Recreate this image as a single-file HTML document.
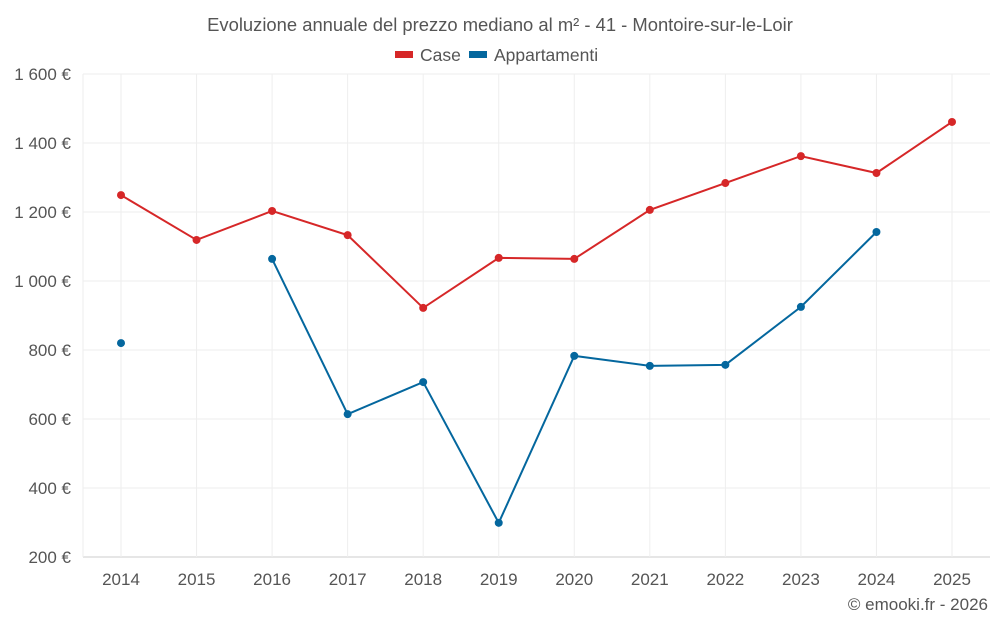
<!DOCTYPE html>
<html><head><meta charset="utf-8"><style>
body{margin:0;background:#fff;font-family:"Liberation Sans",sans-serif;}
svg text{font-family:"Liberation Sans",sans-serif;}
</style></head><body>
<svg id="c" width="1000" height="625">
<text x="500" y="31" text-anchor="middle" font-size="18.4" fill="#555">Evoluzione annuale del prezzo mediano al m² - 41 - Montoire-sur-le-Loir</text>
<g>
<g><rect x="395" y="51" width="18" height="7" fill="#d62728"/><text x="420" y="61" font-size="17.5" fill="#555">Case</text></g>
<g><rect x="469" y="51" width="18" height="7" fill="#04679e"/><text x="494" y="61" font-size="17.5" fill="#555">Appartamenti</text></g>
</g>
<g id="grid"></g><g id="axes"></g><g id="series"></g>
<text x="988" y="610" text-anchor="end" font-size="17" fill="#555">© emooki.fr - 2026</text>
</svg>
<script>
const years=[2014,2015,2016,2017,2018,2019,2020,2021,2022,2023,2024,2025];
const caseValues=[1249,1119,1203,1133,922,1067,1064,1206,1284,1362,1313,1461];
const apptValues=[820,null,1064,614,707,299,783,754,757,925,1142,null];
const yTicks=[200,400,600,800,1000,1200,1400,1600];
const yTickLabels=["200 €","400 €","600 €","800 €","1 000 €","1 200 €","1 400 €","1 600 €"];
const NS="http://www.w3.org/2000/svg";
const L=83,R=990,T=74,B=557;
const x=i=>121+i*(952-121)/(years.length-1);
const y=v=>B-(v-200)*(B-T)/1400;
function mk(tag,attrs,parent){const e=document.createElementNS(NS,tag);for(const k in attrs)e.setAttribute(k,attrs[k]);parent.appendChild(e);return e;}
const grid=document.getElementById('grid'),axes=document.getElementById('axes'),ser=document.getElementById('series');
yTicks.forEach((v,i)=>{
 const g=mk('line',{x1:L,x2:R,y1:y(v),y2:y(v),stroke:i==0?'#ccc':'#eee'},grid);
 
 
 const t=mk('text',{x:71,y:y(v)+6,'text-anchor':'end','font-size':17,fill:'#555'},axes);
 t.textContent=yTickLabels[i];
 
 
});
mk('line',{x1:L,x2:L,y1:T,y2:B,stroke:'#eee'},grid);
years.forEach((yr,i)=>{
 const g=mk('line',{x1:x(i),x2:x(i),y1:T,y2:B,stroke:'#eee'},grid);
 
 
 const t=mk('text',{x:x(i),y:585,'text-anchor':'middle','font-size':17,fill:'#555'},axes);
 t.textContent=yr;
 
 
});
function draw(vals,color,name){
 let segs=[],cur=[];
 vals.forEach((v,i)=>{if(v==null){if(cur.length)segs.push(cur);cur=[];}else cur.push([x(i),y(v)]);});
 if(cur.length)segs.push(cur);
 segs.forEach(s=>{if(s.length>1){const p=mk('polyline',{points:s.map(q=>q.join(',')).join(' '),fill:'none',stroke:color,'stroke-width':2},ser);
 
 }});
 vals.forEach((v,i)=>{if(v==null)return;const c=mk('circle',{cx:x(i),cy:y(v),r:4,fill:color},ser);
 
 });
}
draw(caseValues,'#d62728','case');
draw(apptValues,'#04679e','appartamenti');
</script>
</body></html>
